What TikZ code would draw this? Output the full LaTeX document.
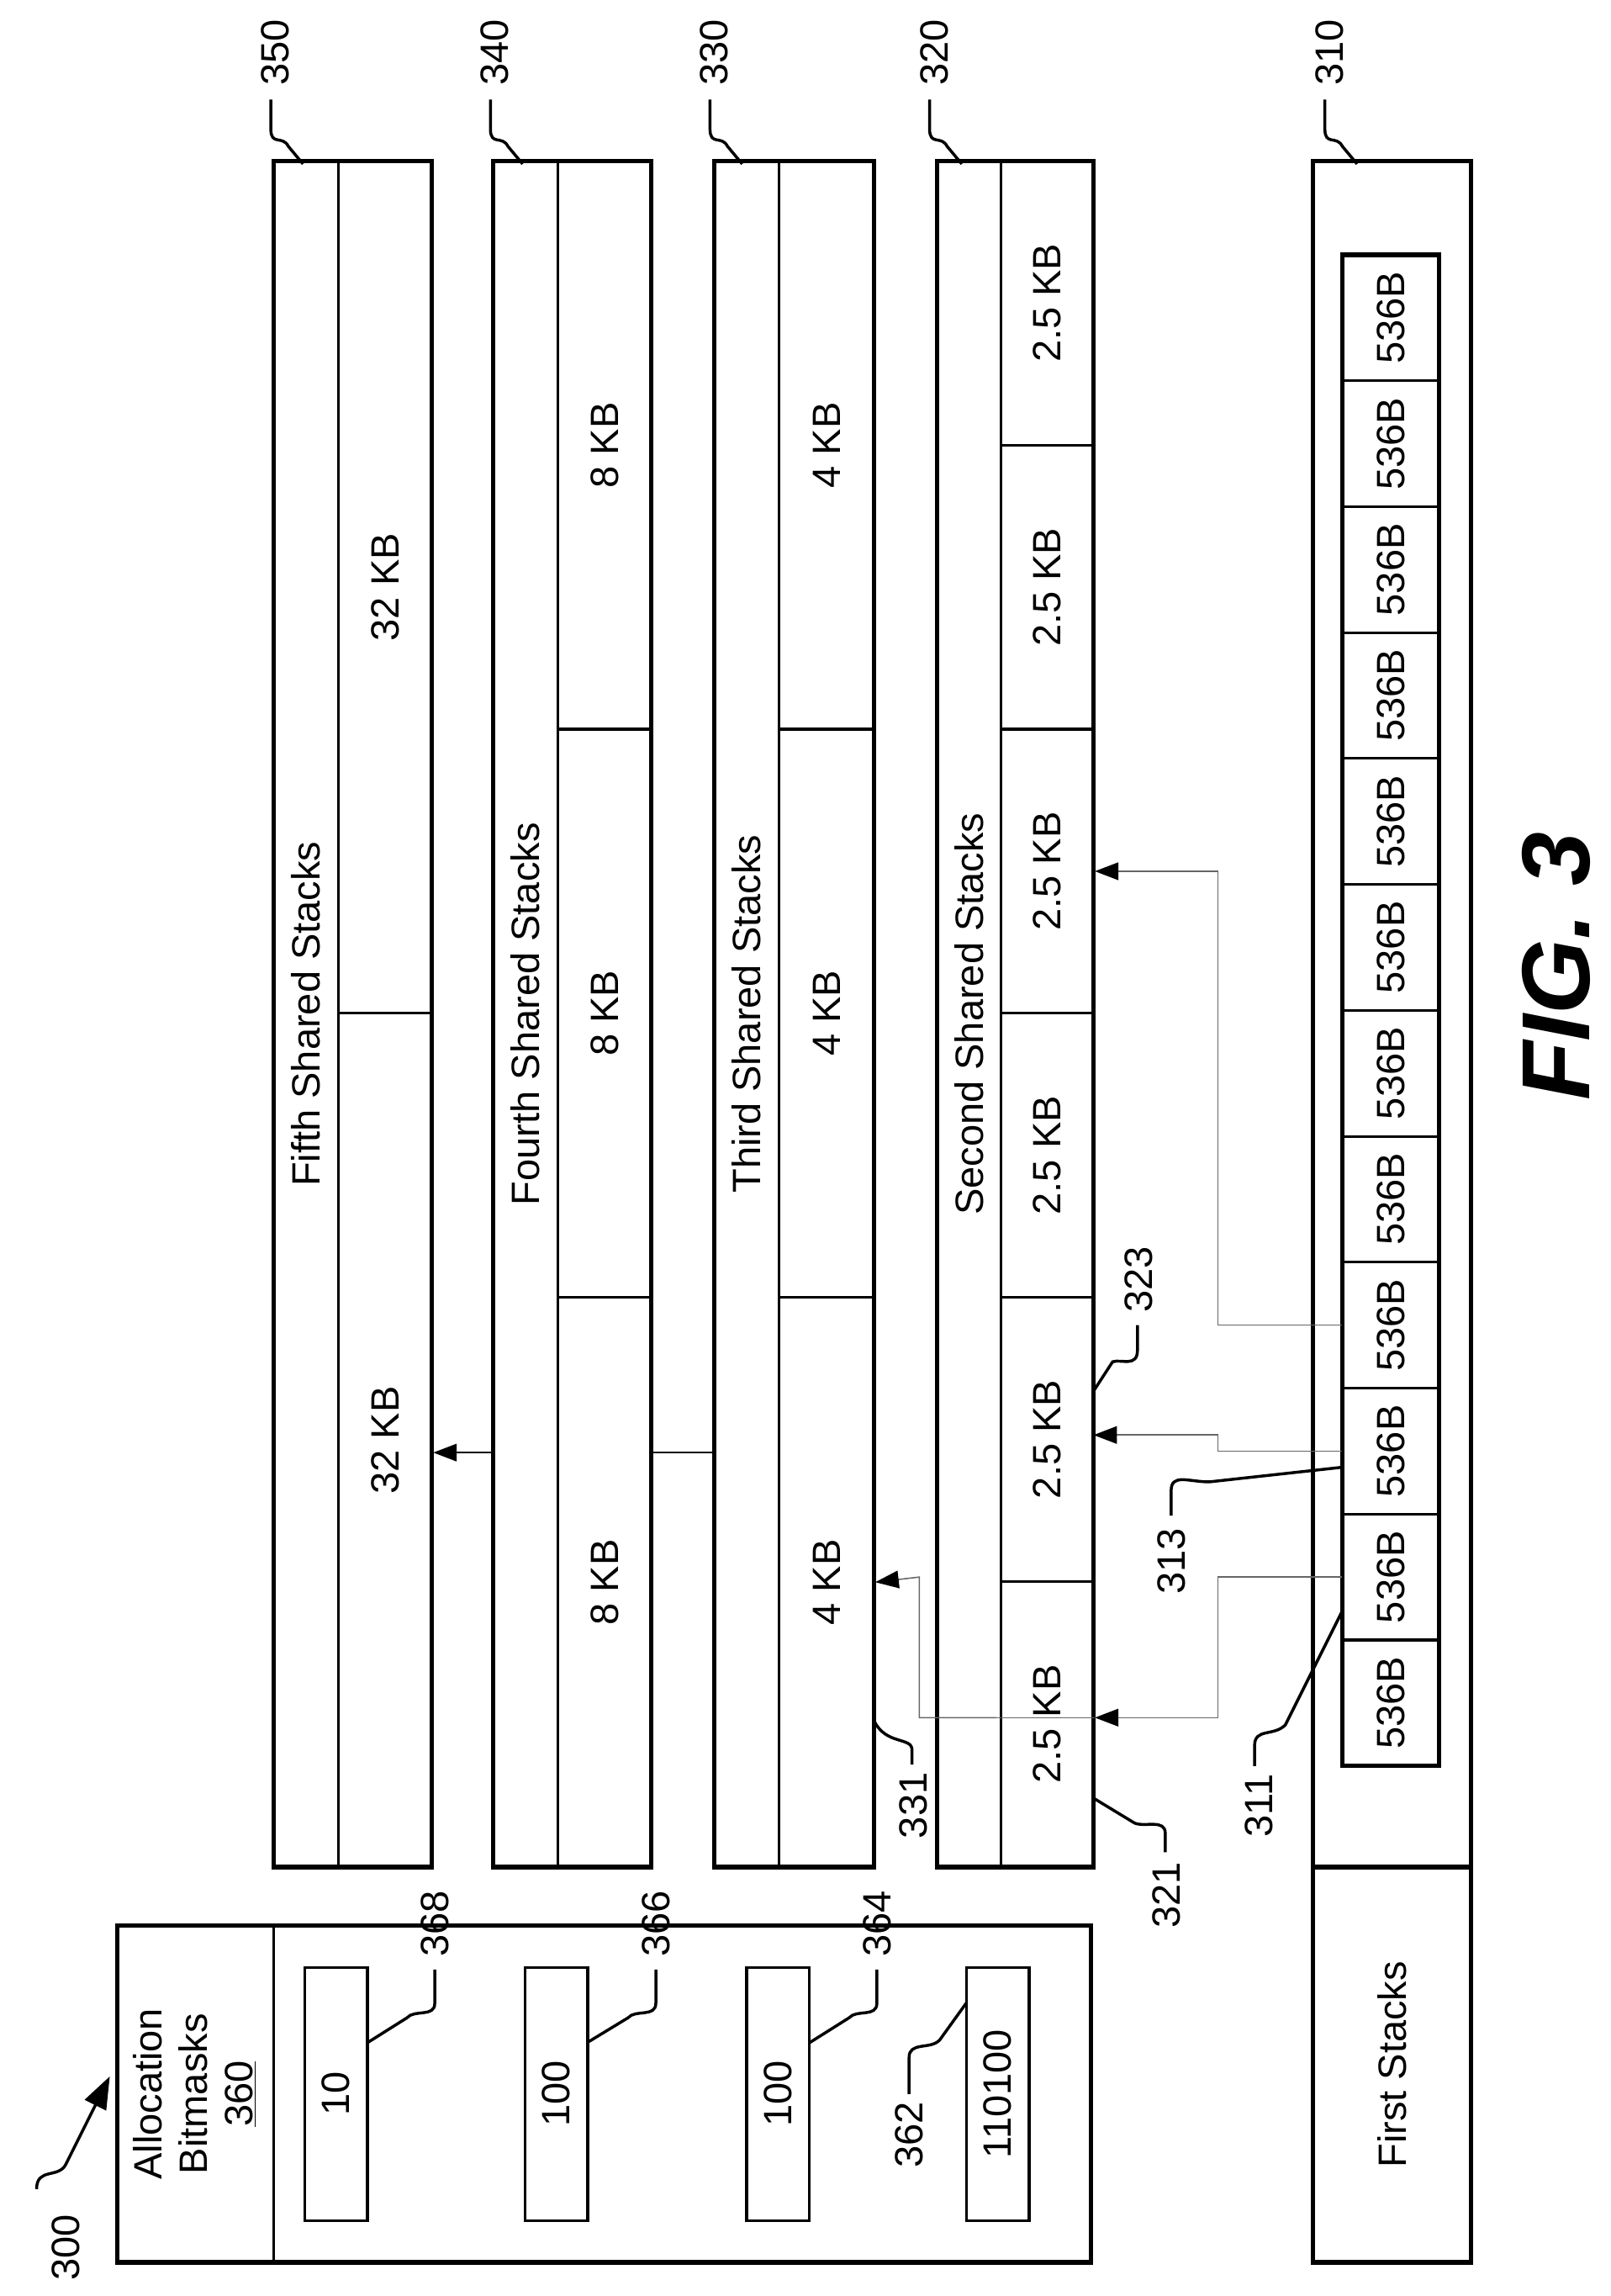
\documentclass[tikz,border=0pt]{standalone}
\usepackage{fontspec}
\setmainfont{Liberation Sans}
\usetikzlibrary{arrows.meta}
\begin{document}
\begin{tikzpicture}[x=1pt,y=-1pt,
  cellbox/.style={draw,line width=1.8pt,inner sep=0pt,minimum width=#1},
  txt/.style={font=\fontsize{27}{30}\selectfont,rotate=90},
  lbl/.style={font=\fontsize{27}{30}\selectfont,rotate=90},
  conn/.style={draw=black!60,line width=0.9pt,-{Triangle[length=16pt,width=12pt,fill=black,color=black]}},
  connl/.style={draw=black!60,line width=0.9pt},
  lead/.style={draw,line width=2pt},
  outer/.style={draw,line width=3pt}]
\useasboundingbox (0,0) rectangle (1100,1568);
% helper macro for cells: \cellat{name}{x1}{x2}{y1}{y2}{text}
\newcommand{\cellat}[6]{\node[cellbox=#3-#2,minimum height=#5-#4,txt] (#1) at ({(#2+#3)/2},{(#4+#5)/2}) {#6};}
% Note: rotated nodes swap width/height, so set explicitly below
\tikzset{rc/.style 2 args={draw,line width=1.8pt,inner sep=0pt,minimum width=#2,minimum height=#1,rotate=90,font=\fontsize{27}{30}\selectfont}}
% ---- 350
\node[rc={44}{1165}] (h5) at (209,692.5) {Fifth Shared Stacks};
\node[rc={64}{582}] (f1) at (263,401) {32 KB};
\node[rc={64}{583}] (f2) at (263,983.5) {32 KB};
\draw[outer] (187,110) rectangle (295,1275);
% ---- 340
\node[rc={44}{1165}] (h4) at (359,692.5) {Fourth Shared Stacks};
\node[rc={64}{388}] (e1) at (413,304) {8 KB};
\node[rc={64}{388}] (e2) at (413,692) {8 KB};
\node[rc={64}{389}] (e3) at (413,1080.5) {8 KB};
\draw[outer] (337,110) rectangle (445,1275);
% ---- 330
\node[rc={44}{1165}] (h3) at (510,692.5) {Third Shared Stacks};
\node[rc={65}{388}] (t1) at (564.5,304) {4 KB};
\node[rc={65}{388}] (t2) at (564.5,692) {4 KB};
\node[rc={65}{389}] (t3) at (564.5,1080.5) {4 KB};
\draw[outer] (488,110) rectangle (597,1275);
% ---- 320
\node[rc={44}{1165}] (h2) at (662,692.5) {Second Shared Stacks};
\foreach \i/\a/\b in {1/110/304,2/304/498,3/498/692,4/692/886,5/886/1080,6/1080/1275}
  \node[rc={63}{\b-\a}] (s\i) at (715.5,{(\a+\b)/2}) {2.5 KB};
\draw[outer] (640,110) rectangle (747,1275);
% ---- 310
\node[draw,line width=3pt,minimum width=108,minimum height=1165,inner sep=0pt] (b310) at (951,692.5) {};
\node[draw,line width=3pt,minimum width=108,minimum height=270,inner sep=0pt] (fs) at (951,1410) {};
\node[lbl] at (fs.center) {First Stacks};
\foreach \i in {1,...,12}
  \node[rc={65}{86}] (c\i) at (950,{1206-86*(\i-0.5)}) {536B};
\draw[line width=3pt] (917,174) rectangle (983,1206);
% ---- 360
\draw[outer] (80,1315) rectangle (745,1545);
\draw[line width=1.8pt] (187,1315) -- (187,1545);
\node[rotate=90,align=center,font=\fontsize{27}{31}\selectfont] (hdr) at (133,1430) {Allocation\\Bitmasks\\\underline{360}};
\node[rc={43}{173}] (m4) at (229.5,1430) {10};
\node[rc={43}{173}] (m3) at (380,1430) {100};
\node[rc={43}{173}] (m2) at (531.5,1430) {100};
\node[rc={43}{173}] (m1) at (681.5,1430) {110100};
% ---- connectors
\draw[conn] (c4.north) -- (832,905) -- (832,595) -- (s3.south);
\draw[conn] (c3.north) -- (832,991) -- (832,980) -- (747,980);
\draw[connl] (c2.north) -- (832,1077) -- (832,1173) -- (681,1173);
\draw[conn] (832,1173) -- (s6.south |- 0,1173);
\draw[conn] (681,1173) -- (628,1173) -- (628,1077) -- (t3.south);
\draw[line width=0.9pt] (h3.north |- 0,992) -- (445,992);
\draw[line width=0.9pt,-{Triangle[length=16pt,width=12pt]}] (337,992) -- (296,992);
% ---- top leaders
\foreach \x/\t in {185/350,335/340,485/330,635/320,905/310}{
  \node[lbl,anchor=west] at (\x+3,62) {\t};
  \draw[lead] (\x,68) -- (\x,88) .. controls (\x,100) and (\x+8,92) .. (\x+12,100) -- (\x+22,112);
}
% ---- other leaders
\node[lbl,anchor=east] at (860,1208) {311};
\draw[lead] (857,1206) -- (857,1192) .. controls (857,1180) and (870,1186) .. (878,1178) -- (917,1100);
\node[lbl,anchor=east] at (800,1040) {313};
\draw[lead] (800,1035) -- (800,1018) .. controls (800,1006) and (812,1012) .. (826,1012) -- (917,1002);
\node[lbl,anchor=west] at (778,900) {323};
\draw[lead] (777,905) -- (777,922) .. controls (777,934) and (766,928) .. (760,930) -- (747,950);
\node[lbl,anchor=east] at (624,1207) {331};
\draw[lead] (623,1205) -- (623,1195) .. controls (623,1186) and (605,1192) .. (597,1175);
\node[lbl,anchor=east] at (797,1268) {321};
\draw[lead] (796,1265) -- (796,1252) .. controls (796,1242) and (782,1248) .. (775,1245) -- (747,1228);
\node[lbl,anchor=west] at (297,1340) {368};
\draw[lead] (297,1345) -- (297,1368) .. controls (297,1378) and (283,1372) .. (278,1378) -- (251,1395);
\node[lbl,anchor=west] at (448,1340) {366};
\draw[lead] (448,1345) -- (448,1368) .. controls (448,1378) and (434,1372) .. (429,1378) -- (401,1395);
\node[lbl,anchor=west] at (599,1340) {364};
\draw[lead] (599,1345) -- (599,1368) .. controls (599,1378) and (585,1372) .. (580,1378) -- (553,1395);
\node[lbl,anchor=east] at (621,1432) {362};
\draw[lead] (621,1430) -- (621,1405) .. controls (621,1394) and (636,1400) .. (642,1393) -- (660,1368);
% ---- 300
\node[lbl] at (45,1535) {300};
\draw[lead,-{Triangle[length=22pt,width=16pt]}] (25,1495) .. controls (25,1480) and (40,1488) .. (45,1478) -- (75,1418);
% ---- fig
\node[rotate=90,font=\fontsize{66}{70}\selectfont\bfseries\itshape] at (1063,660) {FIG. 3};
\end{tikzpicture}
\end{document}
